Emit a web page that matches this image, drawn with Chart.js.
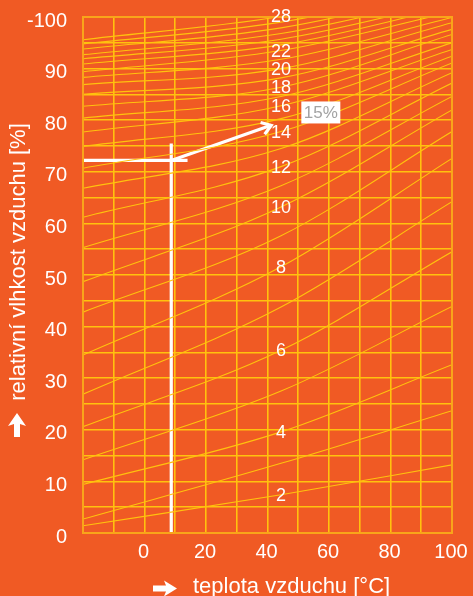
<!DOCTYPE html>
<html>
<head>
<meta charset="utf-8">
<script src="https://cdn.jsdelivr.net/npm/chart.js@4.4.1/dist/chart.umd.min.js"></script>
<style>
  html, body { margin: 0; padding: 0; background: #F05A24; }
  #wrap { position: relative; width: 473px; height: 596px; }
</style>
</head>
<body>
<div id="wrap"><canvas id="c" width="473" height="596"></canvas></div>
<script>
// Wood equilibrium moisture content (%) — one isoline per value
const moistureContent = [2, 3, 4, 5, 6, 7, 8, 9, 10, 11, 12, 13, 14, 15, 16, 17, 18, 19, 20, 21, 22, 23, 24, 25, 26, 27, 28];
// Relative humidity (%) of each isoline at -20 °C, 44.4 °C and 100 °C
const isolineTemps = [-20, 44.4, 100];
const rhAtMinus20 = [1.4, 2.7, 9.4, 14.2, 20.6, 26.9, 34.5, 42.8, 48.7, 55.3, 61.2, 66.8, 70.7, 74.9, 77.7, 80.4, 82.7, 85.0, 86.9, 88.3, 89.4, 90.9, 91.9, 92.7, 93.8, 94.8, 95.6];
const rhAtLabel   = [7.4, 13.5, 19.6, 27.5, 35.4, 43.8, 51.6, 57.6, 63.2, 67.3, 71.0, 74.5, 77.8, 80.3, 82.8, 84.6, 86.4, 88.2, 90.0, 91.8, 93.5, 94.6, 95.7, 96.8, 97.9, 99.0, 100.1];
const rhAt100     = [13.2, 23.7, 32.6, 43.9, 54.5, 64.2, 72.6, 77.8, 82.0, 84.6, 87.2, 89.2, 91.1, 92.4, 93.7, 95.0, 96.6, 97.6, 98.9, 99.9, 101, 102, 103, 104, 105, 106, 107];
// Isolines that carry a number
const labelledMoisture = [2, 4, 6, 8, 10, 12, 14, 16, 18, 20, 22, 28];

// Axis tick labels
const xTickValues = [0, 20, 40, 60, 80, 100];
const xTickLabels = ['0', '20', '40', '60', '80', '100'];
const yTickLabels = ['0', '10', '20', '30', '40', '50', '60', '70', '80', '90', '-100'];

// Worked example: air at 8.7 °C and 72.2 % RH
const exampleTemp = 8.7;
const exampleRH = 72.2;
const exampleTopRH = 75.5;       // end of the temperature guide line
const exampleRightTemp = 14;     // end of the humidity guide line
const resultTemp = 41.2;         // arrow tip, pointing at the result
const resultRH = 79.0;
const resultText = '15%';

const FONT = '"Liberation Sans", Arial, Helvetica, sans-serif';
const ORANGE = '#F05A24';
const YELLOW = '#FFC20E';
const FRAME = '#F9A51A';

const isolineSets = moistureContent.map((w, i) => {
  const rh = [rhAtMinus20[i], rhAtLabel[i], rhAt100[i]];
  return {
    label: w + ' %',
    data: isolineTemps.map((t, k) => ({ x: t, y: rh[k] })),
    borderColor: YELLOW,
    borderWidth: 1.1,
    pointRadius: 0,
    cubicInterpolationMode: 'monotone',
    fill: false
  };
});

const whiteLine = (data) => ({
  data, borderColor: '#FFFFFF', borderWidth: 3.2, pointRadius: 0, fill: false, borderCapStyle: 'butt'
});

const exampleSets = [
  whiteLine([{ x: exampleTemp, y: 0 }, { x: exampleTemp, y: exampleTopRH }]),
  whiteLine([{ x: -20, y: exampleRH }, { x: exampleRightTemp, y: exampleRH }]),
  whiteLine([{ x: exampleTemp, y: exampleRH }, { x: resultTemp, y: resultRH }])
];

const decor = {
  id: 'decor',
  beforeDraw(chart) {
    const ctx = chart.ctx;
    ctx.save();
    ctx.fillStyle = ORANGE;
    ctx.fillRect(0, 0, chart.width, chart.height);
    ctx.restore();
  },
  afterDatasetsDraw(chart) {
    const ctx = chart.ctx;
    const xs = chart.scales.x, ys = chart.scales.y;
    const a = chart.chartArea;
    ctx.save();

    // plot frame
    ctx.strokeStyle = FRAME;
    ctx.lineWidth = 2;
    ctx.strokeRect(a.left, a.top, a.right - a.left, a.bottom - a.top);

    // arrow head of the example
    const x0 = xs.getPixelForValue(exampleTemp), y0 = ys.getPixelForValue(exampleRH);
    const x1 = xs.getPixelForValue(resultTemp), y1 = ys.getPixelForValue(resultRH);
    const ang = Math.atan2(y1 - y0, x1 - x0);
    const len = 11, spread = 0.6;
    ctx.strokeStyle = '#FFFFFF';
    ctx.lineWidth = 3.2;
    ctx.lineJoin = 'miter';
    ctx.beginPath();
    ctx.moveTo(x1 - len * Math.cos(ang - spread), y1 - len * Math.sin(ang - spread));
    ctx.lineTo(x1, y1);
    ctx.lineTo(x1 - len * Math.cos(ang + spread), y1 - len * Math.sin(ang + spread));
    ctx.stroke();

    // isoline numbers
    ctx.fillStyle = '#FFFFFF';
    ctx.font = '18px ' + FONT;
    ctx.textAlign = 'center';
    ctx.textBaseline = 'middle';
    const lx = xs.getPixelForValue(isolineTemps[1]);
    labelledMoisture.forEach(w => {
      const i = moistureContent.indexOf(w);
      ctx.fillText(String(w), lx, ys.getPixelForValue(rhAtLabel[i]) + 1);
    });

    // result box
    const bx = xs.getPixelForValue(51), by = ys.getPixelForValue(81.5);
    ctx.fillStyle = '#FFFFFF';
    ctx.fillRect(bx, by - 11, 39, 22);
    ctx.fillStyle = '#A3A3A3';
    ctx.font = '17px ' + FONT;
    ctx.textAlign = 'center';
    ctx.fillText(resultText, bx + 19.5, by + 1);

    // axis titles with arrows
    ctx.fillStyle = '#FFFFFF';
    ctx.font = '22px ' + FONT;
    ctx.textAlign = 'left';
    ctx.textBaseline = 'alphabetic';
    ctx.fillText('teplota vzduchu [°C]', 193, 593);

    ctx.save();
    ctx.translate(25, 262);
    ctx.rotate(-Math.PI / 2);
    ctx.textAlign = 'center';
    ctx.fillText('relativní vlhkost vzduchu [%]', 0, 0);
    ctx.restore();

    // right arrow before the x title
    ctx.beginPath();
    ctx.moveTo(153, 585.5); ctx.lineTo(166, 585.5); ctx.lineTo(164, 580.5);
    ctx.lineTo(177, 588.5); ctx.lineTo(164, 596.5); ctx.lineTo(166, 591.5);
    ctx.lineTo(153, 591.5); ctx.closePath();
    ctx.fill();

    // up arrow below the y title
    ctx.beginPath();
    ctx.moveTo(14, 437); ctx.lineTo(14, 424); ctx.lineTo(8, 426);
    ctx.lineTo(17, 413); ctx.lineTo(26, 426); ctx.lineTo(20, 424);
    ctx.lineTo(20, 437); ctx.closePath();
    ctx.fill();

    ctx.restore();
  }
};

new Chart(document.getElementById('c'), {
  type: 'line',
  data: { datasets: [...isolineSets, ...exampleSets] },
  options: {
    responsive: false,
    animation: false,
    devicePixelRatio: 1,
    layout: { padding: { top: 17, right: 21, left: 0, bottom: 0 } },
    plugins: { legend: { display: false }, tooltip: { enabled: false } },
    scales: {
      x: {
        type: 'linear', min: -20, max: 100,
        afterFit: s => { s.height = 63; s.paddingLeft = 0; s.paddingRight = 0; },
        ticks: {
          stepSize: 10, autoSkip: false, maxRotation: 0, color: '#FFFFFF',
          font: { family: FONT, size: 20 }, padding: 7, labelOffset: -1,
          callback: v => { const i = xTickValues.indexOf(v); return i < 0 ? '' : xTickLabels[i]; }
        },
        grid: { color: YELLOW, lineWidth: 1.6, drawTicks: false },
        border: { display: false }
      },
      y: {
        type: 'linear', min: 0, max: 100,
        afterFit: s => { s.width = 83; s.paddingTop = 0; s.paddingBottom = 0; },
        ticks: {
          stepSize: 5, autoSkip: false, color: '#FFFFFF',
          font: { family: FONT, size: 20 }, padding: 16, labelOffset: 4,
          callback: v => (v % 10 === 0 ? yTickLabels[v / 10] : '')
        },
        grid: { color: YELLOW, lineWidth: 1.6, drawTicks: false },
        border: { display: false }
      }
    }
  },
  plugins: [decor]
});
</script>
</body>
</html>
